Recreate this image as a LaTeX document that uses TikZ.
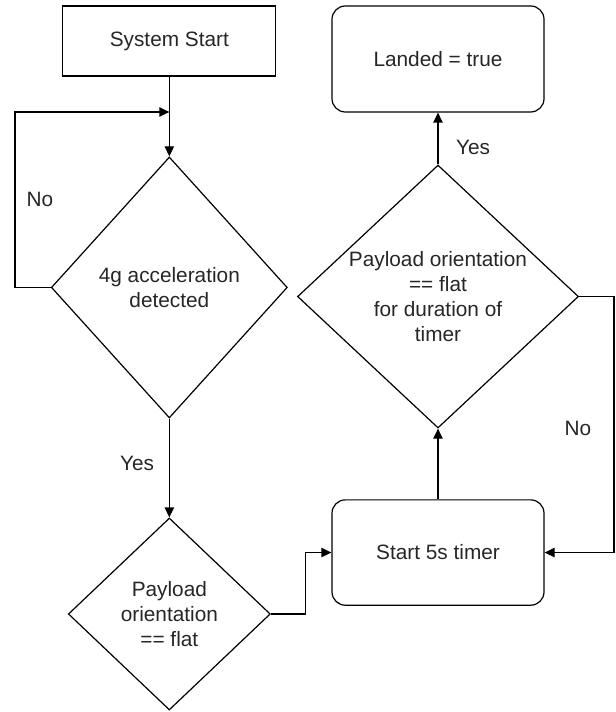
\documentclass[tikz,border=0pt]{standalone}
\usepackage{fontspec}
\setmainfont{Liberation Sans}
\usetikzlibrary{shapes.geometric,arrows.meta}
\begin{document}
\begin{tikzpicture}[x=1pt,y=1pt,
  font=\fontsize{15.6}{18.75}\selectfont,
  every node/.style={text=black!85},
  line/.style={draw=black, line width=0.9pt},
  arr/.style={line, -{Triangle[length=7.5pt,width=7pt]}},
  box/.style={line, rectangle, inner sep=0pt, minimum width=159.75pt, minimum height=52.5pt},
  rbox/.style={line, rectangle, rounded corners=10pt, inner sep=0pt, minimum width=159pt, minimum height=79pt},
  dia/.style={line, diamond, inner sep=0pt},
  lbl/.style={inner sep=0pt}
]
\useasboundingbox (0,0) rectangle (461.25,-534);
\node[box] (start) at (127,-30.75) {System Start};
\node[dia, minimum width=177pt, minimum height=195.75pt,
  label={[align=center]center:4g acceleration\\detected}] (acc) at (127,-215.6) {};
\node[dia, minimum width=151.5pt, minimum height=144pt,
  label={[align=center]center:Payload\\orientation\\== flat}] (flat) at (127,-460.5) {};
\node[rbox] (timer) at (328.5,-414.4) {Start 5s timer};
\node[dia, minimum width=210.75pt, minimum height=197.25pt,
  label={[align=center]center:Payload orientation\\== flat\\for duration of\\timer}] (dur) at (328.5,-222.4) {};
\node[rbox, minimum height=79.5pt] (landed) at (328.5,-44.25) {Landed = true};

\coordinate (join) at (127,-84);
\draw[arr] (start.south) -- (acc.north);
\draw[arr] (acc.west) -- (11.25,-215.6) -- (11.25,-84) -- (join);
\draw[arr] (acc.south) -- (flat.north);
\draw[arr] (flat.east) -- (229,-460.5) -- (229,-414.4) -- (timer.west);
\draw[arr] (timer.north) -- (dur.south);
\draw[arr] (dur.east) -- (460.5,-222.4) -- (460.5,-414.4) -- (timer.east);
\draw[arr] (dur.north) -- (landed.south);

\node[lbl] (no1) at (30,-149.25) {No};
\node[lbl] (yes1) at (102.75,-347.25) {Yes};
\node[lbl] (yes2) at (354.75,-110.25) {Yes};
\node[lbl] (no2) at (433.5,-321) {No};
\end{tikzpicture}
\end{document}
